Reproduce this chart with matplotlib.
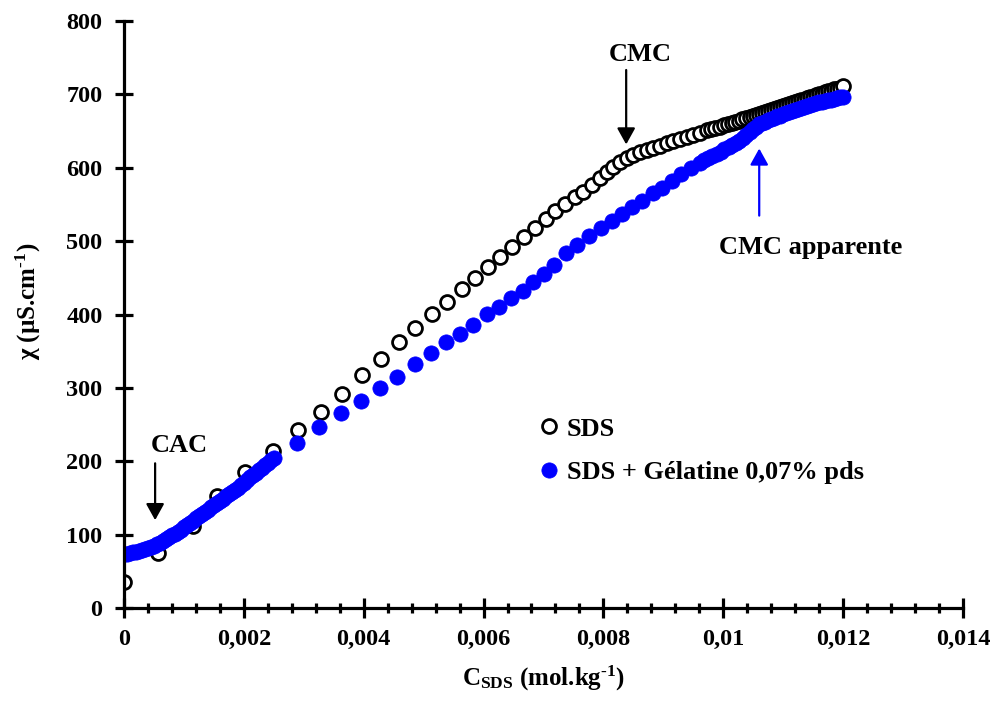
import matplotlib
matplotlib.use("Agg")
import matplotlib.pyplot as plt
from matplotlib.ticker import MultipleLocator, FuncFormatter

plt.rcParams["font.family"] = ["Liberation Serif", "DejaVu Serif"]
plt.rcParams["font.weight"] = "bold"
plt.rcParams["mathtext.fontset"] = "custom"
plt.rcParams["mathtext.rm"] = "Liberation Serif:bold"
plt.rcParams["mathtext.it"] = "Liberation Serif:bold"
plt.rcParams["mathtext.bf"] = "Liberation Serif:bold"
plt.rcParams["mathtext.default"] = "rm"

# --- SDS alone (open circles) ---
sds_x = [0.0, 0.00057, 0.00116, 0.00155, 0.00202, 0.00249, 0.0029, 0.00329,
         0.00364, 0.00397, 0.00429, 0.00459, 0.00486, 0.00514, 0.00539, 0.00564,
         0.00586, 0.00607, 0.00627, 0.00647, 0.00667, 0.00686, 0.00704, 0.00719,
         0.00736, 0.00753, 0.00766, 0.00781, 0.00794, 0.00806, 0.00816, 0.00828,
         0.00839, 0.0085, 0.00861, 0.00873, 0.00883, 0.00894, 0.00906, 0.00916,
         0.00928, 0.0094, 0.0095, 0.00961, 0.00973, 0.0098, 0.00987, 0.00994,
         0.01001, 0.01008, 0.01014, 0.0102, 0.01026, 0.01032, 0.01038, 0.01044,
         0.0105, 0.01055, 0.0106, 0.01065, 0.0107, 0.01075, 0.0108, 0.01085,
         0.0109, 0.01095, 0.011, 0.01105, 0.0111, 0.01115, 0.0112, 0.01125,
         0.0113, 0.01135, 0.0114, 0.01145, 0.0115, 0.01155, 0.0116, 0.01165,
         0.0117, 0.01175, 0.0118, 0.01185, 0.0119, 0.01195, 0.012]
sds_y = [36, 75, 112, 153, 186, 214, 243, 267,
         292, 318, 339, 362, 382, 401, 417, 435,
         450, 465, 478, 492, 506, 518, 530, 541,
         551, 560, 567, 576, 586, 594, 601, 608,
         613, 617, 621, 624, 627, 630, 634, 636,
         639, 642, 645, 647, 651, 653, 654, 656,
         658, 660, 661, 663, 664, 666, 668, 669,
         671, 672, 673, 675, 676, 677, 679, 680,
         681, 683, 684, 685, 687, 688, 689, 691,
         692, 693, 695, 696, 697, 699, 700, 701,
         703, 704, 705, 707, 708, 709, 711]

# --- SDS + gelatine 0,07 % (filled blue) ---
gel_x = [0.0, 0.00005, 0.0001, 0.00015, 0.0002, 0.00025, 0.0003, 0.00035,
         0.0004, 0.00045, 0.0005, 0.00055, 0.0006, 0.00065, 0.0007, 0.00075,
         0.0008, 0.00085, 0.0009, 0.00095, 0.001, 0.00105, 0.0011, 0.00115,
         0.0012, 0.00125, 0.0013, 0.00135, 0.0014, 0.00145, 0.0015, 0.00155,
         0.0016, 0.00165, 0.0017, 0.00175, 0.0018, 0.00185, 0.0019, 0.00195,
         0.002, 0.00205, 0.0021, 0.00215, 0.0022, 0.00225, 0.0023, 0.00235,
         0.0024, 0.00245, 0.0025,
         0.00289, 0.00325, 0.00362, 0.00396, 0.00427, 0.00456, 0.00486, 0.00512,
         0.00537, 0.00561, 0.00582, 0.00606, 0.00626, 0.00646, 0.00666, 0.00683,
         0.00701, 0.00718, 0.00737, 0.00756, 0.00776, 0.00796, 0.00814, 0.00831,
         0.00848, 0.00865, 0.00882, 0.00898, 0.00914, 0.0093, 0.00946, 0.00961,
         0.00968, 0.00975, 0.00982, 0.00989, 0.00996, 0.01002, 0.01009, 0.01015,
         0.01021, 0.01027, 0.01033, 0.01038, 0.01044, 0.01049, 0.01055, 0.0106,
         0.01065, 0.0107, 0.01075, 0.0108, 0.01085, 0.0109, 0.01095, 0.011,
         0.01105, 0.0111, 0.01115, 0.0112, 0.01125, 0.0113, 0.01135, 0.0114,
         0.01145, 0.0115, 0.01155, 0.0116, 0.01165, 0.0117, 0.01175, 0.0118,
         0.01185, 0.0119, 0.01195, 0.012]
gel_y = [73, 74, 75, 76, 77, 78, 79, 80.5,
         82, 83.5, 85, 87, 89, 91.5, 94, 96.5,
         99, 101.5, 104, 107, 110, 113, 116, 119,
         122, 125, 128, 131, 134, 137, 140, 143,
         146, 149, 152, 155, 158, 161, 164, 167.5,
         171, 174.5, 178, 181, 184, 187.5, 191, 194.5,
         198, 201.5, 205,
         225, 247, 266, 282, 300, 315, 333, 348,
         363, 373, 386, 401, 410, 423, 432, 444,
         455, 468, 484, 495, 507, 518, 528, 537,
         546, 555, 565, 573, 582, 591, 599, 607,
         610, 613, 616, 619, 622, 625, 628, 631,
         634, 637, 641, 645, 649, 653, 656, 659,
         661, 663, 665, 666, 668, 670, 671, 673,
         674, 676, 677, 679, 680, 682, 683, 684,
         686, 687, 688, 689, 690, 691, 692, 693,
         694, 695, 696, 697]

fig = plt.figure(figsize=(9.94, 7.07), dpi=100)
ax = fig.add_axes([0.1247, 0.140, 0.8441, 0.8303])

ax.plot(sds_x, sds_y, ls="none", marker="o", ms=10, mfc="white",
        mec="black", mew=2.0, label="SDS")
ax.plot(gel_x, gel_y, ls="none", marker="o", ms=11, mfc="#0000ff",
        mec="#0000ff", mew=0.5, label="SDS + Gélatine 0,07% pds")

ax.set_xlim(0, 0.014)
ax.set_ylim(0, 800)
for s in ["top", "right"]:
    ax.spines[s].set_visible(False)
for s in ["left", "bottom"]:
    ax.spines[s].set_linewidth(2.3)

ax.xaxis.set_major_locator(MultipleLocator(0.002))
ax.xaxis.set_minor_locator(MultipleLocator(0.0004))
ax.yaxis.set_major_locator(MultipleLocator(100))


def fr(v, pos):
    s = f"{v:.3f}".rstrip("0").rstrip(".")
    return s.replace(".", ",")


ax.xaxis.set_major_formatter(FuncFormatter(fr))
ax.tick_params(axis="x", which="major", direction="inout", length=14,
               width=2.3, labelsize=17.5, pad=8)
ax.tick_params(axis="x", which="minor", direction="inout", length=7, width=2.3)
ax.tick_params(axis="y", which="major", direction="inout", length=13,
               width=2.3, labelsize=17.5, pad=9)

ax.set_xlabel(r"$C_{SDS}$ (mol.kg$^{\text{-}1}$)", fontsize=18,
              fontweight="bold", labelpad=10)
ax.set_ylabel(r"χ (µS.cm$^{\text{-}1}$)", fontsize=18, fontweight="bold")
ax.yaxis.set_label_coords(-0.097, 0.523)

arrow_k = dict(arrowstyle="-|>,head_length=0.45,head_width=0.25",
               color="black", lw=1.6, mutation_scale=22)
arrow_b = dict(arrowstyle="-|>,head_length=0.45,head_width=0.25",
               color="#0000ff", lw=1.6, mutation_scale=22)
ax.annotate("", xy=(0.00052, 116), xytext=(0.00052, 201), arrowprops=arrow_k)
ax.text(0.00093, 222, "CAC", ha="center", va="center", fontsize=19,
        fontweight="bold")
ax.annotate("", xy=(0.00838, 628), xytext=(0.00838, 737), arrowprops=arrow_k)
ax.text(0.00861, 755, "CMC", ha="center", va="center", fontsize=19,
        fontweight="bold")
ax.annotate("", xy=(0.0106, 630), xytext=(0.0106, 531), arrowprops=arrow_b)
ax.text(0.01145, 492, "CMC apparente", ha="center", va="center", fontsize=19,
        fontweight="bold")

ax.legend(loc="upper left", bbox_to_anchor=(0.485, 0.343), frameon=False,
          fontsize=19, handlelength=0.6, handletextpad=0.35, labelspacing=0.75,
          markerscale=1.0, borderaxespad=0)

fig.savefig("out.png", dpi=100)
